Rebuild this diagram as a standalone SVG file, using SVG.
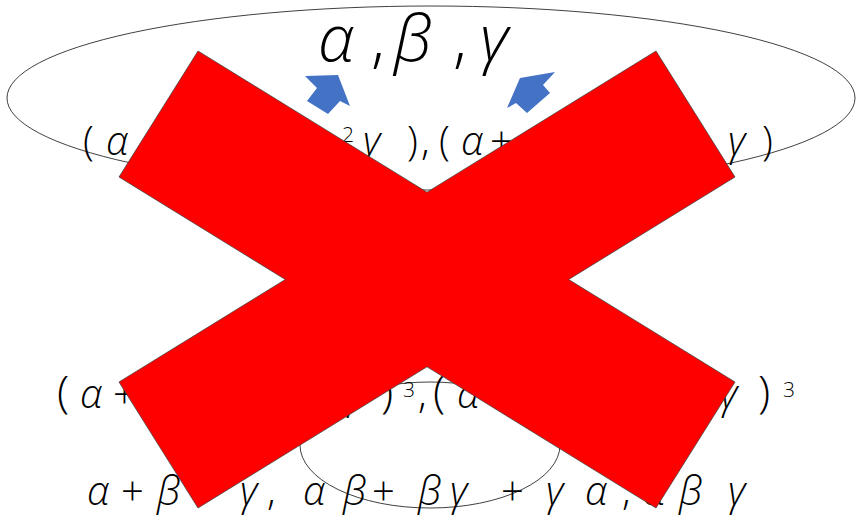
<svg xmlns="http://www.w3.org/2000/svg" width="857" height="515" viewBox="0 0 857 515">
<style>
.t{font-family:"Open Sans","Noto Sans","DejaVu Sans",sans-serif;font-weight:300;fill:#000;}
.g{font-style:italic;}
.el{fill:none;stroke:#000;stroke-width:0.75;}
.ar{fill:#4472C4;}
</style>
<rect width="857" height="515" fill="#fff"/>
<g id="ellipses">
<ellipse id="top-ellipse" class="el" cx="431" cy="98" rx="424" ry="92"/>
<ellipse id="bottom-ellipse" class="el" cx="430" cy="445" rx="130" ry="63"/>
</g>
<g id="arrows">
<polygon id="arrow-left" class="ar" points="305,76 338,75 350,106 340,101 328,114 307,101 317,88"/>
<polygon id="arrow-right" class="ar" points="555,72 520,78 507,108 516,103 527,113 550,93 543,85"/>
</g>
<g id="top-text" class="t" font-size="65">
<text y="61"><tspan class="g" x="318">α</tspan><tspan x="371">,</tspan><tspan class="g" x="394">β</tspan><tspan x="453">,</tspan><tspan class="g" x="480">γ</tspan></text>
</g>
<g id="middle-text" class="t" font-size="40">
<text y="155"><tspan x="83">(</tspan><tspan class="g" x="106">α</tspan></text>
<text y="142" font-size="21" x="342">2</text>
<text y="155"><tspan class="g" x="363">γ</tspan><tspan x="407">)</tspan><tspan x="421">,</tspan><tspan x="439">(</tspan><tspan class="g" x="461">α</tspan><tspan x="490">+</tspan></text>
<text y="155"><tspan class="g" x="728">γ</tspan><tspan x="762">)</tspan></text>
</g>
<g id="cube-text" class="t" font-size="40">
<text y="408"><tspan x="57" font-size="45">(</tspan><tspan class="g" x="80">α</tspan><tspan x="113">+</tspan></text>
<text y="408"><tspan class="g" x="345">γ</tspan><tspan x="381" font-size="45">)</tspan></text>
<text y="397" font-size="21" x="403">3</text>
<text y="408"><tspan x="418">,</tspan><tspan x="433" font-size="45">(</tspan><tspan class="g" x="457">α</tspan></text>
<text y="408"><tspan class="g" x="720">γ</tspan><tspan x="758" font-size="45">)</tspan></text>
<text y="397" font-size="21" x="783">3</text>
</g>
<g id="symmetric-text" class="t" font-size="40">
<text y="505"><tspan class="g" x="87">α</tspan><tspan x="121">+</tspan><tspan class="g" x="157">β</tspan><tspan x="198">+</tspan><tspan class="g" x="240">γ</tspan><tspan x="267">,</tspan><tspan class="g" x="303">α</tspan><tspan class="g" x="343">β</tspan><tspan x="372">+</tspan><tspan class="g" x="418">β</tspan><tspan class="g" x="450">γ</tspan><tspan x="501">+</tspan><tspan class="g" x="546">γ</tspan><tspan class="g" x="585">α</tspan><tspan x="622">,</tspan><tspan class="g" x="643">α</tspan><tspan class="g" x="679">β</tspan><tspan class="g" x="728">γ</tspan></text>
</g>
<g id="red-cross">
<polygon fill="#FF0000" stroke="#404040" stroke-width="0.75" points="198,51 427,192.2 656,51 735,177 568.7,279.5 735,382 656,508 427,366.8 198,508 119,382 285.3,279.5 119,177"/>
</g>
</svg>
